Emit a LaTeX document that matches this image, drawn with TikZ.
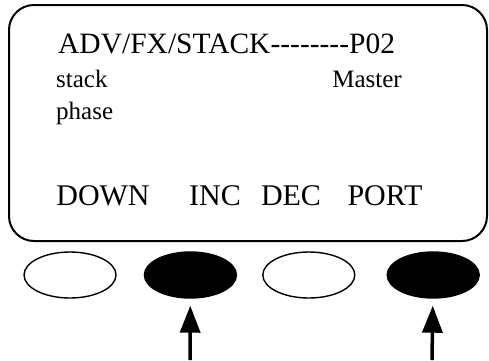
\documentclass[tikz,border=0pt]{standalone}
\usepackage{fontspec}
\setmainfont{Liberation Serif}
\usepackage{tikz}
\usetikzlibrary{positioning,arrows.meta,shapes.geometric}
\tikzset{marco/.style={line width=2pt, rounded corners=25pt}}
\tikzset{tecla/.style={draw, ellipse, line width=1.4pt, minimum width=92pt, minimum height=46pt}}
\tikzset{flecha/.style={line width=3.5pt, -{Triangle[width=20pt,length=27pt]}, shorten >=7pt}}
\tikzset{grande/.style={font=\fontsize{29.5}{32}\selectfont, anchor=base west}}
\tikzset{boton/.style={font=\fontsize{30}{32}\selectfont, anchor=base}}
\tikzset{chico/.style={font=\fontsize{25}{28}\selectfont, anchor=base west}}

\begin{document}
\begin{tikzpicture}[x=1pt, y=-1pt, every node/.style={inner sep=0pt}]
            \useasboundingbox (0,0) rectangle (489,360);
            \draw[marco] (9,5) rectangle (487,241);

            \node[grande] (titulo) at (58,53) {ADV/FX/STACK-{}-{}-{}-{}-{}-{}-{}-P02};
            \node[chico] (stack) at (56,87) {stack};
            \node[chico, anchor=base east] (master) at (402,87) {Master};
            \node[chico] (phase) at (56,119) {phase};

            \node[boton] (down) at (103,205) {DOWN};
            \node[boton] (inc) at (215,205) {INC};
            \node[boton] (dec) at (291,205) {DEC};
            \node[boton] (port) at (385,205) {PORT};

            \node[tecla] (1) at (70,275) {};
            \node[tecla, fill=black, right= 27pt of 1] (2) {};
            \node[tecla, right= 25pt of 2] (3) {};
            \node[tecla, fill=black, right= 31pt of 3] (4) {};

            \coordinate (p2) at (190,360);
            \coordinate (p4) at (432,360);
            \draw[flecha] (p2) -- (2);
            \draw[flecha] (p4) -- (4);
\end{tikzpicture}
\end{document}
